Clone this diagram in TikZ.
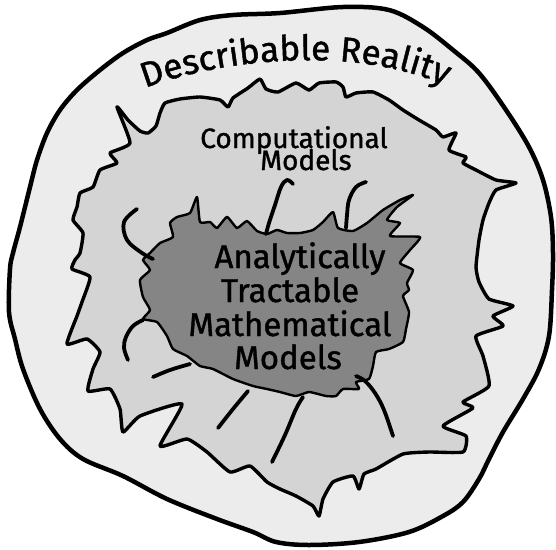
\documentclass[tikz,border=0pt]{standalone}
\usepackage{fontspec}
\newfontfamily\hand[FakeBold=1.2]{Fira Sans}
\usetikzlibrary{decorations.text}
\definecolor{outerfill}{gray}{0.925}
\definecolor{midfill}{gray}{0.83}
\definecolor{innerfill}{gray}{0.52}
\tikzset{
  outerblob/.style={line width=4.5pt, fill=outerfill, line join=round},
  midblob/.style={line width=3.4pt, fill=midfill, line join=round},
  innerblob/.style={line width=2.4pt, fill=innerfill, line join=round},
  tendril/.style={line width=3.8pt, line cap=round, line join=round},
  label/.style={font=\hand, inner sep=0pt, anchor=base},
}
\begin{document}
\begin{tikzpicture}[x=1pt,y=-1pt]
\useasboundingbox (0,0) rectangle (556,549);
\fill[white] (0,0) rectangle (556,549);
% outer region: Describable Reality
\draw[outerblob] plot[smooth cycle, tension=0.55] coordinates {
 (280,13) (343,7) (389,10) (423,27) (453,50) (479,73) (506,110) (529,147)
 (543,180) (551,217) (553,253) (552,290) (549,336) (539,369) (523,399)
 (503,432) (489,459) (479,479) (463,502) (443,516) (409,532) (359,542)
 (309,545) (276,542) (253,532) (217,519) (167,499) (123,476) (83,459)
 (60,439) (40,409) (23,369) (15,339) (9,312) (10,269) (13,253) (20,227)
 (30,187) (37,160) (47,133) (60,110) (77,90) (100,70) (123,53) (147,40)
 (167,33) (200,20) (233,15)};
% middle region: Computational Models
\draw[midblob] plot[smooth cycle, tension=0.3] coordinates {
 (117,107) (128,120) (140,131) (148,133) (156,126) (160,113) (165,103)
 (180,99) (200,97) (220,100) (228,107) (233,98) (248,88) (260,79) (266,89)
 (278,92) (296,83) (309,90) (319,83) (336,82) (343,87) (346,97) (356,93)
 (373,92) (389,100) (403,110) (419,120) (436,130) (443,137) (456,133)
 (449,150) (466,157) (463,163) (476,170) (496,180) (516,183) (496,190)
 (489,203) (483,220) (479,240) (476,267) (479,282) (489,299) (513,306)
 (493,316) (503,326) (476,336) (483,356) (489,386) (463,402) (473,408)
 (443,426) (466,436) (463,452) (429,452) (403,454) (376,469) (364,474)
 (359,489) (353,476) (333,482) (323,499) (319,516) (313,506) (296,496)
 (280,489) (267,482) (250,466) (230,472) (207,452) (187,439) (160,446)
 (182,404) (140,416) (123,432) (120,409) (110,389) (88,391) (93,369)
 (100,352) (87,339) (67,344) (77,316) (82,302) (90,277) (72,269) (75,260)
 (80,253) (83,233) (73,220) (77,207) (80,193) (93,187) (100,170) (117,163)
 (110,153) (130,143)};
% inner region: Analytically Tractable Mathematical Models
\draw[innerblob] plot[smooth cycle, tension=0.3] coordinates {
 (197,197) (200,222) (210,222) (217,228) (227,217) (237,228) (247,221)
 (257,231) (267,234) (277,230) (287,233) (300,233) (313,230) (323,222)
 (333,212) (338,228) (353,231) (367,223) (383,210) (400,200) (413,195)
 (397,207) (387,220) (400,223) (390,236) (420,237) (410,250) (400,263)
 (413,270) (407,283) (409,290) (403,296) (409,312) (406,329) (403,342)
 (389,349) (376,352) (373,366) (369,379) (356,382) (359,389) (343,389)
 (336,396) (326,396) (309,392) (296,396) (280,392) (267,389) (253,386)
 (233,379) (213,369) (200,366) (187,356) (173,349) (167,336) (157,322)
 (143,319) (150,310) (143,297) (140,280) (150,270) (143,260) (150,253)
 (160,243) (173,237) (170,223) (177,217) (190,213)};
% tendrils
\draw[tendril] plot[smooth, tension=0.6] coordinates {(137,209) (124,222) (127,240) (142,253) (153,259)};
\draw[tendril] plot[smooth, tension=0.6] coordinates {(293,184) (287,180) (281,187) (275,205) (269,223) (266,234)};
\draw[tendril] plot[smooth, tension=0.6] coordinates {(366,182) (356,187) (349,200) (347,215) (346,228)};
\draw[tendril] plot[smooth, tension=0.6] coordinates {(143,320) (133,326) (126,337) (124,348) (128,360)};
\draw[tendril] plot[smooth, tension=0.6] coordinates {(153,377) (170,370) (190,364)};
\draw[tendril] plot[smooth, tension=0.6] coordinates {(218,428) (233,409) (248,391)};
\draw[tendril] plot[smooth, tension=0.6] coordinates {(272,462) (285,435) (296,409) (303,397)};
\draw[tendril] plot[smooth, tension=0.6] coordinates {(356,376) (365,381) (375,393) (384,410) (393,436)};
% labels
\path[decorate, decoration={text along path, text align=center,
  text format delimiters={|}{|},
  text={|\hand\fontsize{35}{40}\selectfont|Describable Reality}}]
  (140,90) .. controls (220,58) and (360,44) .. (450,88);
\node[label, font=\hand\fontsize{28}{32}\selectfont] (comp) at (294,148) {Computational};
\node[label, font=\hand\fontsize{28}{32}\selectfont] (compmod) at (306,170) {Models};
\node[label, font=\hand\fontsize{33}{36}\selectfont] (an1) at (300,268) {Analytically};
\node[label, font=\hand\fontsize{33}{36}\selectfont] (an2) at (290,302) {Tractable};
\node[label, font=\hand\fontsize{33}{36}\selectfont] (an3) at (290,336) {Mathematical};
\node[label, font=\hand\fontsize{33}{36}\selectfont] (an4) at (288,369) {Models};
\end{tikzpicture}
\end{document}
